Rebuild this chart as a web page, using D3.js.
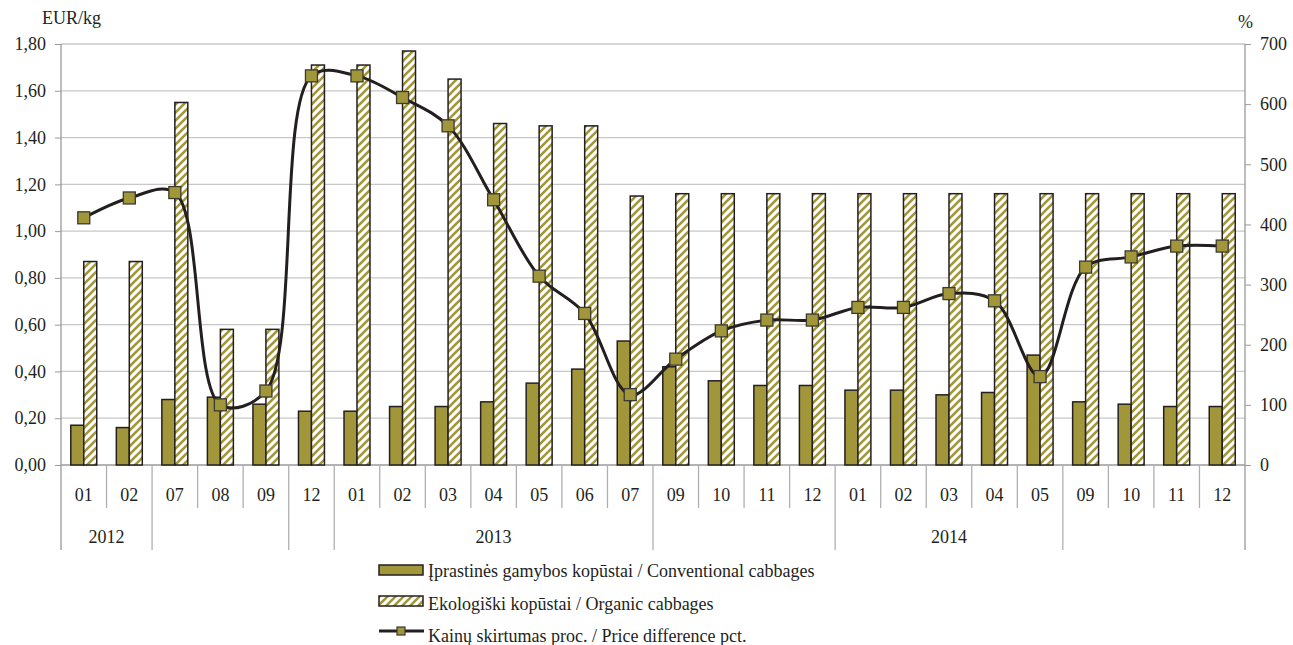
<!DOCTYPE html>
<html>
<head>
<meta charset="utf-8">
<script src="https://cdn.jsdelivr.net/npm/d3@7"></script>
<style>
  html, body { margin: 0; padding: 0; background: #fff; }
  svg { display: block; }
  svg text { font-family: "Liberation Serif", "Times New Roman", Times, "Noto Serif", "DejaVu Serif", serif !important; fill: #231f20; }
</style>
</head>
<body>
<svg id="chart" width="1293" height="645"></svg>
<script>
// ---- data ----
const months = ["01","02","07","08","09","12","01","02","03","04","05","06","07","09","10","11","12","01","02","03","04","05","09","10","11","12"];
const conventional = [0.17,0.16,0.28,0.29,0.26,0.23,0.23,0.25,0.25,0.27,0.35,0.41,0.53,0.42,0.36,0.34,0.34,0.32,0.32,0.30,0.31,0.47,0.27,0.26,0.25,0.25];
const organic = [0.87,0.87,1.55,0.58,0.58,1.71,1.71,1.77,1.65,1.46,1.45,1.45,1.15,1.16,1.16,1.16,1.16,1.16,1.16,1.16,1.16,1.16,1.16,1.16,1.16,1.16];
const priceDiff = [411,444,453,100,123,647,647,611,564,441,314,252,117,176,223,241,241,262,262,285,273,147,329,346,364,364];
const yearLabels = ["2012","","","2013","","2014",""];
const yearBounds = [0,2,5,6,13,17,22,26];
const leftTicks = [0,0.2,0.4,0.6,0.8,1.0,1.2,1.4,1.6,1.8];
const rightTicks = [0,100,200,300,400,500,600,700];
const seriesNames = ["Įprastinės gamybos kopūstai / Conventional cabbages","Ekologiški kopūstai / Organic cabbages","Kainų skirtumas proc. / Price difference pct."];

// ---- layout ----
const L = 61, R = 1245, T = 44, B = 465;
const olive = "#a2963a", dark = "#231f20", grid = "#c8c8c8", axisGray = "#9a9a9a";
const FONT = '"Liberation Serif", "Times New Roman", Times, "Noto Serif", "DejaVu Serif", serif';

const svg = d3.select("#chart");
const defs = svg.append("defs");
const pat = defs.append("pattern").attr("id","hatch").attr("patternUnits","userSpaceOnUse")
  .attr("width",8).attr("height",8);
pat.append("rect").attr("width",8).attr("height",8).attr("fill","#fff");
pat.append("path").attr("d","M-2,2 l4,-4 M0,8 l8,-8 M6,10 l4,-4")
  .attr("stroke",olive).attr("stroke-width",2.6);

const idx = d3.range(months.length);
const x = d3.scaleBand().domain(idx).range([L,R]).padding(0);
const bw = x.bandwidth();
const barW = bw*0.285;
const sub = d3.scaleBand().domain(["conv","org"]).range([bw/2-barW, bw/2+barW]).padding(0);
const yL = d3.scaleLinear().domain([0,1.8]).range([B,T]);
const yR = d3.scaleLinear().domain([0,700]).range([B,T]);
const fmt = v => d3.format(".2f")(v).replace(".", ",");

// gridlines
svg.append("g").selectAll("line").data(leftTicks.slice(1)).join("line")
  .attr("x1",L).attr("x2",R).attr("y1",d=>yL(d)).attr("y2",d=>yL(d))
  .attr("stroke",grid).attr("stroke-width",1.3);

// left axis
const gL = svg.append("g").attr("transform",`translate(${L},0)`)
  .call(d3.axisLeft(yL).tickValues(leftTicks).tickFormat(fmt).tickSize(6).tickPadding(9));
gL.attr("font-family",FONT).attr("font-size",18);
gL.select(".domain").remove();
gL.selectAll(".tick line").attr("stroke",axisGray);
gL.selectAll("text").attr("fill",dark);

// right axis
const gR = svg.append("g").attr("transform",`translate(${R},0)`)
  .call(d3.axisRight(yR).tickValues(rightTicks).tickSize(6).tickPadding(9));
gR.attr("font-family",FONT).attr("font-size",18);
gR.select(".domain").remove();
gR.selectAll(".tick line").attr("stroke",axisGray);
gR.selectAll("text").attr("fill",dark);

// baseline & vertical frame lines
svg.append("line").attr("x1",L).attr("x2",R).attr("y1",B).attr("y2",B).attr("stroke",axisGray).attr("stroke-width",1.3);
svg.append("line").attr("x1",L).attr("x2",L).attr("y1",T).attr("y2",550).attr("stroke",axisGray).attr("stroke-width",1.3);
svg.append("line").attr("x1",R).attr("x2",R).attr("y1",T).attr("y2",550).attr("stroke",axisGray).attr("stroke-width",1.3);

// category separators
svg.append("g").selectAll("line").data(idx.slice(1)).join("line")
  .attr("x1",d=>x(d)).attr("x2",d=>x(d)).attr("y1",B)
  .attr("y2",d=> yearBounds.includes(d) ? 550 : 508)
  .attr("stroke","#b0b0b0").attr("stroke-width",1.3);

const txt = svg.append("g").attr("font-family",FONT).attr("font-size",18);

// month labels
txt.append("g").selectAll("text").data(idx).join("text")
  .attr("x",d=>x(d)+bw/2).attr("y",501).attr("text-anchor","middle")
  .text(d=>months[d]);

// year labels
txt.append("g").selectAll("text").data(yearLabels).join("text")
  .attr("x",(d,i)=> (x(yearBounds[i]) + (yearBounds[i+1] < months.length ? x(yearBounds[i+1]) : R))/2)
  .attr("y",543).attr("text-anchor","middle").text(d=>d);

// bars
const gb = svg.append("g");
gb.selectAll("rect.conv").data(idx).join("rect").attr("class","conv")
  .attr("x",d=>x(d)+sub("conv")).attr("width",sub.bandwidth())
  .attr("y",d=>yL(conventional[d])).attr("height",d=>B-yL(conventional[d]))
  .attr("fill",olive).attr("stroke",dark).attr("stroke-width",1.5);
gb.selectAll("rect.org").data(idx).join("rect").attr("class","org")
  .attr("x",d=>x(d)+sub("org")).attr("width",sub.bandwidth())
  .attr("y",d=>yL(organic[d])).attr("height",d=>B-yL(organic[d]))
  .attr("fill","url(#hatch)").attr("stroke",dark).attr("stroke-width",1.5);

// line
const line = d3.line().x(d=>x(d)+bw/2).y(d=>yR(priceDiff[d])).curve(d3.curveCatmullRom.alpha(0.5));
svg.append("path").datum(idx).attr("d",line).attr("fill","none")
  .attr("stroke",dark).attr("stroke-width",3).attr("stroke-linejoin","round");
svg.append("g").selectAll("rect").data(idx).join("rect")
  .attr("x",d=>x(d)+bw/2-6).attr("y",d=>yR(priceDiff[d])-6)
  .attr("width",12).attr("height",12)
  .attr("fill",olive).attr("stroke","#3a3a30").attr("stroke-width",1.3);

// axis titles
txt.append("text").attr("x",42).attr("y",24).text("EUR/kg");
txt.append("text").attr("x",1238).attr("y",28).text("%");

// legend
const lg = svg.append("g");
lg.append("rect").attr("x",379).attr("y",565).attr("width",44).attr("height",10)
  .attr("fill",olive).attr("stroke",dark).attr("stroke-width",1.5);
lg.append("rect").attr("x",379).attr("y",596).attr("width",44).attr("height",10)
  .attr("fill","url(#hatch)").attr("stroke",dark).attr("stroke-width",1.5);
lg.append("line").attr("x1",379).attr("x2",424).attr("y1",631).attr("y2",631)
  .attr("stroke",dark).attr("stroke-width",3);
lg.append("rect").attr("x",397).attr("y",627).attr("width",8).attr("height",8)
  .attr("fill",olive).attr("stroke","#3a3a30").attr("stroke-width",1.2);
txt.append("g").selectAll("text").data(seriesNames).join("text")
  .attr("x",428).attr("y",(d,i)=>577+i*32.5).text(d=>d);
</script>
</body>
</html>
